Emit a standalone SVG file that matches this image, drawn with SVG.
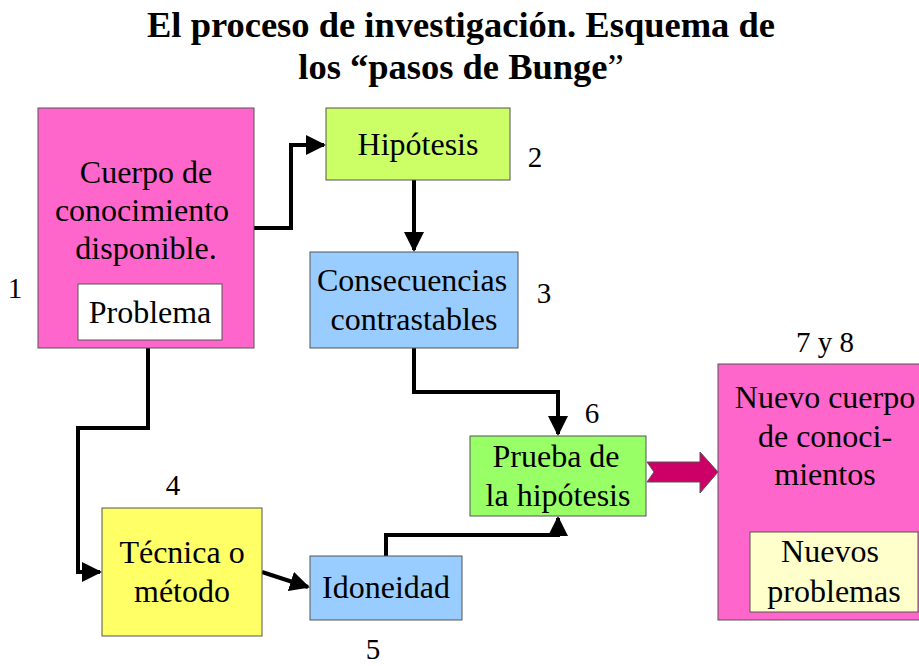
<svg xmlns="http://www.w3.org/2000/svg" width="919" height="666" viewBox="0 0 919 666">
<style>
text{font-family:"Liberation Serif","Times New Roman",serif;fill:#000}
.t{font-size:32px;text-anchor:middle}
.n{font-size:29px;text-anchor:middle}
.h{font-size:36.5px;font-weight:bold;text-anchor:middle}
.box{stroke:#555;stroke-width:1}
.c{fill:none;stroke:#000;stroke-width:4}
</style>
<defs>
<marker id="ah" markerWidth="5" markerHeight="5" refX="4.5" refY="2.5" orient="auto" markerUnits="strokeWidth">
<path d="M0,0 L5,2.5 L0,5 Z" fill="#000"/>
</marker>
</defs>
<g id="title">
<text class="h" x="461" y="37">El proceso de investigación. Esquema de</text>
<text class="h" x="461" y="79">los “pasos de Bunge<tspan font-weight="normal">”</tspan></text>
</g>
<g id="connectors">
<polyline class="c" points="254,228 291,228 291,145 324,145" marker-end="url(#ah)"/>
<polyline class="c" points="414,180 414,250" marker-end="url(#ah)"/>
<polyline class="c" points="414,348 414,392 558,392 558,434" marker-end="url(#ah)"/>
<polyline class="c" points="148,348 148,428 78,428 78,572 100,572" marker-end="url(#ah)"/>
<polyline class="c" points="262,572 308,587" marker-end="url(#ah)"/>
<polyline class="c" points="386,556 386,535 558,535 558,518" marker-end="url(#ah)"/>
<path d="M647,462 L700,462 L700,452 L718,472 L700,493 L700,482 L647,482 L654,472 Z" fill="#CC0066" stroke="#555" stroke-width="1"/>
</g>
<g id="n1">
<rect class="box" x="38" y="108" width="216" height="240" fill="#FF66CC"/>
<text class="t" x="146" y="183">Cuerpo de</text>
<text class="t" x="142" y="221">conocimiento</text>
<text class="t" x="146" y="259">disponible.</text>
<rect class="box" x="78" y="284" width="144" height="56" fill="#FFFFFF"/>
<text class="t" x="150" y="323">Problema</text>
<text class="n" x="15" y="298">1</text>
</g>
<g id="n2">
<rect class="box" x="326" y="108" width="184" height="72" fill="#CCFF66"/>
<text class="t" x="418" y="155">Hipótesis</text>
<text class="n" x="535" y="167">2</text>
</g>
<g id="n3">
<rect class="box" x="310" y="252" width="208" height="96" fill="#99CCFF"/>
<text class="t" x="412" y="291">Consecuencias</text>
<text class="t" x="414" y="330">contrastables</text>
<text class="n" x="544" y="303">3</text>
</g>
<g id="n4">
<rect class="box" x="102" y="508" width="160" height="128" fill="#FFFF66"/>
<text class="t" x="182" y="563">Técnica o</text>
<text class="t" x="182" y="602">método</text>
<text class="n" x="173" y="495">4</text>
</g>
<g id="n5">
<rect class="box" x="310" y="556" width="152" height="64" fill="#99CCFF"/>
<text class="t" x="386" y="598">Idoneidad</text>
<text class="n" x="373" y="659">5</text>
</g>
<g id="n6">
<rect class="box" x="470" y="436" width="176" height="80" fill="#99FF66"/>
<text class="t" x="556" y="467">Prueba de</text>
<text class="t" x="558" y="506">la hipótesis</text>
<text class="n" x="592" y="423">6</text>
</g>
<g id="n7">
<rect class="box" x="718" y="364" width="205" height="256" fill="#FF66CC"/>
<text class="t" x="825" y="408">Nuevo cuerpo</text>
<text class="t" x="825" y="447">de conoci-</text>
<text class="t" x="825" y="485">mientos</text>
<rect class="box" x="750" y="532" width="168" height="80" fill="#FFFFCC"/>
<text class="t" x="830" y="562">Nuevos</text>
<text class="t" x="834" y="602">problemas</text>
<text class="n" x="825" y="352">7 y 8</text>
</g>
</svg>
